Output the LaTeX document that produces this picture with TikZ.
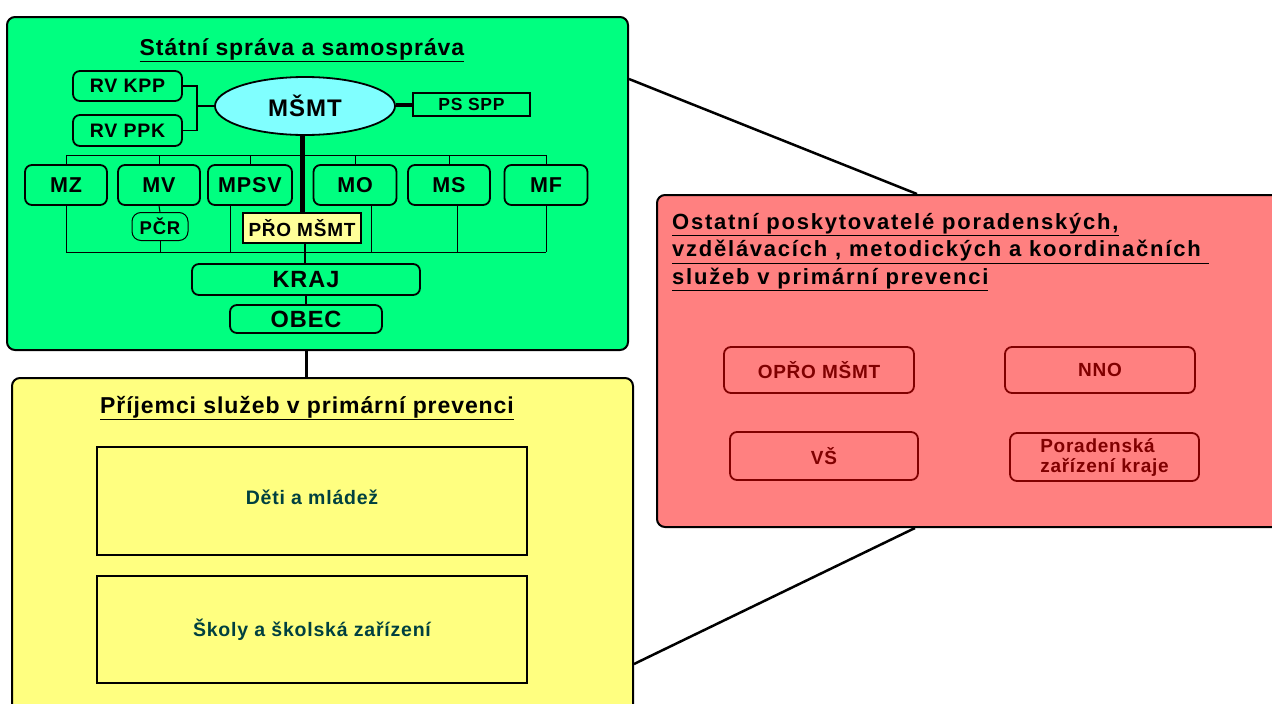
\documentclass[tikz,border=0pt]{standalone}
\usepackage{fontspec}
\setmainfont{Liberation Sans}[LetterSpace=4]
\usetikzlibrary{shapes,positioning}
\usepackage{xcolor}

\definecolor{statgreen}{RGB}{0,255,128}
\definecolor{msmtcyan}{RGB}{128,255,255}
\definecolor{recvyellow}{RGB}{255,255,128}
\definecolor{proyellow}{RGB}{255,255,153}
\definecolor{otherred}{RGB}{255,128,128}
\definecolor{darkteal}{RGB}{0,64,64}
\definecolor{darkred}{RGB}{128,0,0}

\newcommand{\fs}[1]{\fontsize{#1}{#1}\selectfont\bfseries}

\begin{document}
\begin{tikzpicture}[x=1pt, y=-1pt,
    panel/.style={rectangle, draw, line width=2pt, rounded corners=8pt},
    unit/.style={rectangle, draw, line width=1.8pt, rounded corners=7pt, inner sep=0pt},
    heading/.style={inner sep=0pt, font=\fs{23}},
    othbox/.style={rectangle, draw=darkred, line width=1.8pt, rounded corners=7pt, text=darkred, inner sep=0pt, font=\fs{19}}]
    \useasboundingbox (0,0) rectangle (1272,704);
    \clip (0,0) rectangle (1272,704);

    % Panels
    \node[panel, fill=statgreen, minimum width=621, minimum height=333] (state) at (317.5,183.5) {};
    \node[panel, fill=recvyellow, minimum width=621, minimum height=362] (recv) at (322.5,559) {};
    \node[panel, fill=otherred, minimum width=633, minimum height=332] (other) at (973.5,361) {};

    % State administration
    \node[heading] (statetitle) at (302,50) {\underline{Státní správa a samospráva}};
    \node[unit, font=\fs{19.5}, minimum width=109, minimum height=30] (rvkpp) at (127.5,86) {RV KPP};
    \node[unit, font=\fs{19.5}, minimum width=109, minimum height=31] (rvppk) at (127.5,130.5) {RV PPK};
    \node[ellipse, draw, line width=1.8pt, fill=msmtcyan, inner sep=0pt, minimum width=180, minimum height=58, font=\fs{24}] (msmt) at (305,106) {MŠMT};
    \node[rectangle, draw, line width=1.8pt, inner sep=0pt, minimum width=117, minimum height=23, font=\fs{17.5}] (psspp) at (471.5,104.5) {PS SPP};

    \node[unit, font=\fs{21.5}, minimum width=82, minimum height=40] (mz) at (66,185) {MZ};
    \node[unit, font=\fs{21.5}, minimum width=82, minimum height=40] (mv) at (159,185) {MV};
    \node[unit, font=\fs{21.5}, minimum width=84, minimum height=40] (mpsv) at (250,185) {MPSV};
    \node[unit, font=\fs{21.5}, minimum width=83, minimum height=40] (mo) at (355,185) {MO};
    \node[unit, font=\fs{21.5}, minimum width=82, minimum height=40] (ms) at (449,185) {MS};
    \node[unit, font=\fs{21.5}, minimum width=83, minimum height=40] (mf) at (546,185) {MF};

    \node[unit, line width=1pt, rounded corners=9pt, font=\fs{18.5}, minimum width=56, minimum height=28] (pcr) at (160,226.5) {PČR};
    \node[rectangle, draw, line width=1.8pt, fill=proyellow, inner sep=0pt, minimum width=118, minimum height=30, font=\fs{19}] (pro) at (302,228) {PŘO MŠMT};
    \node[unit, font=\fs{23.5}, minimum width=228, minimum height=31] (kraj) at (306,279.5) {KRAJ};
    \node[unit, font=\fs{23.5}, minimum width=152, minimum height=28] (obec) at (306,319) {OBEC};

    \coordinate (busup) at (0,155);
    \coordinate (buslow) at (0,252);

    % Links
    \draw[line width=1.5pt] (rvkpp.east) -| ([xshift=-17pt]msmt.west) |- (rvppk.east);
    \draw[line width=1.5pt] ([xshift=-17pt]msmt.west) -- (msmt.west);
    \draw[line width=4pt] (psspp.west -| msmt.east) -- (psspp.west);
    \draw[line width=1pt] (mz.north |- busup) -- (mf.north |- busup);
    \foreach \m in {mz,mv,mpsv,mo,ms,mf}
        \draw[line width=1pt] (\m.north) -- (\m.north |- busup);
    \draw[line width=1pt] (mz.south |- buslow) -- (mf.south |- buslow);
    \draw[line width=1pt] (mz.south) -- (mz.south |- buslow);
    \draw[line width=1pt] (mv.south) -- (pcr.north);
    \draw[line width=1pt] (pcr.south) -- (pcr.south |- buslow);
    \draw[line width=1pt] ([xshift=-20pt]mpsv.south) -- ([xshift=-20pt]mpsv.south |- buslow);
    \draw[line width=1pt] ([xshift=16pt]mo.south) -- ([xshift=16pt]mo.south |- buslow);
    \draw[line width=1pt] ([xshift=8pt]ms.south) -- ([xshift=8pt]ms.south |- buslow);
    \draw[line width=1pt] (mf.south) -- (mf.south |- buslow);
    \draw[line width=5pt] (pro.north |- msmt.south) -- (pro.north);
    \draw[line width=1.5pt] ([xshift=3pt]pro.south) -- ([xshift=3pt]pro.south |- kraj.north);
    \draw[line width=1.5pt] (kraj.south) -- (obec.north);

    % Recipients
    \node[heading] (recvtitle) at (307,408) {\underline{Příjemci služeb v primární prevenci}};
    \node[rectangle, draw, line width=2pt, inner sep=0pt, minimum width=430, minimum height=108, text=darkteal, font=\fs{19.5}] (kids) at (312,501) {\raisebox{8pt}{Děti a mládež}\hspace{12pt}};
    \node[rectangle, draw, line width=2pt, inner sep=0pt, minimum width=430, minimum height=107, text=darkteal, font=\fs{19.5}] (schools) at (312,629.5) {Školy a školská zařízení};

    % Other providers
    \node[heading, font={\fs{22}\addfontfeature{LetterSpace=8}}, align=left, anchor=north west, execute at begin node={\setlength{\baselineskip}{27.5pt}}] (othertitle) at (672,213)
        {\underline{Ostatní poskytovatelé poradenských,}\\\underline{vzdělávacích , metodických a koordinačních }\\\underline{služeb v primární prevenci}};
    \node[othbox, minimum width=190, minimum height=46] (opro) at (819,370) {OPŘO MŠMT};
    \node[othbox, minimum width=190, minimum height=46] (nno) at (1100,370) {NNO};
    \node[othbox, minimum width=188, minimum height=48] (vs) at (824,456) {VŠ};
    \node[othbox, minimum width=189, minimum height=48, align=left, execute at begin node={\setlength{\baselineskip}{20pt}}] (porad) at (1104.5,457) {Poradenská\\zařízení kraje};

    % Panel connectors
    \draw[line width=3pt] (kraj.south |- state.south) -- (kraj.south |- recv.north);
    \draw[line width=2.5pt] ([yshift=-63pt]state.north east) -- ([xshift=261pt]other.north west);
    \draw[line width=2.5pt] ([xshift=259pt]other.south west) -- ([yshift=-287pt]recv.north east);
\end{tikzpicture}
\end{document}
